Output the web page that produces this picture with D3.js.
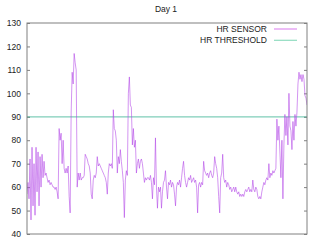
<!DOCTYPE html>
<html><head><meta charset="utf-8">
<script src="https://cdn.jsdelivr.net/npm/d3@7"></script>
<style>body{margin:0;background:#fff}svg{display:block}text{font-family:"Liberation Sans",Arial,sans-serif}</style>
</head><body>
<svg id="c" width="312" height="241"></svg>
<script>
const title = "Day 1";
const seriesNames = ["HR SENSOR", "HR THRESHOLD"];
const yTicks = [40, 50, 60, 70, 80, 90, 100, 110, 120, 130];
const threshold = 90;
const hrSensor = [
57,62,55,72,46,77,52,70,48,77,
58,75,52,73,60,74,64,71,65,66,
64,62,63,61,62,61,60,60,59,60,
58,55,85,80,83,70,80,68,66,68,
66,69,56,49,92,109,104,117,113,110,
60,66,63,66,63,64,64,65,74,73,
72,70,69,66,57,55,63,65,64,66,
73,69,70,69,68,67,66,65,64,62,
57,66,70,69,70,68,93,85,84,80,
66,73,70,76,71,67,62,47,63,67,
65,100,107,95,94,78,85,77,80,66,
70,72,68,71,72,70,66,62,64,63,
64,64,63,65,62,55,64,61,81,60,
51,60,58,60,51,58,62,63,67,60,
55,62,61,63,60,62,61,57,52,60,
62,61,63,60,64,68,71,65,62,60,
62,64,63,65,62,63,64,62,63,60,
49,61,62,60,62,61,71,67,66,65,
66,64,66,67,65,64,66,73,70,68,
64,56,49,64,66,74,64,62,63,60,
62,61,59,60,58,59,60,58,60,58,
57,58,56,57,56,57,56,58,59,58,
59,60,58,59,58,63,59,58,60,59,
56,55,56,55,58,60,62,61,63,64,
63,70,64,66,65,67,66,67,68,89,
80,86,75,64,80,55,78,91,82,90,
78,100,86,84,76,88,80,91,86,92,
104,109,106,108,105,108,106,99,98,95
];

const svg = d3.select("#c");
const L = 27, R = 307, T = 23, B = 234;
const x = d3.scaleLinear().domain([0, hrSensor.length - 1]).range([L, R]);
const y = d3.scaleLinear().domain([40, 130]).range([B, T]);
const gray = "#808080";

svg.append("text").attr("x", 166).attr("y", 11.5).attr("text-anchor", "middle")
  .attr("font-size", "8.5px").attr("fill", "#222").text(title);

const ga = svg.append("g").attr("transform", `translate(${L},0)`)
  .call(d3.axisLeft(y).tickValues(yTicks).tickSize(-3).tickPadding(6));
ga.select(".domain").remove();
ga.selectAll("line").attr("stroke", gray);
ga.selectAll("text").attr("font-size", "8.5px").attr("fill", "#222").attr("font-family", "Liberation Sans, Arial, sans-serif");
const gr = svg.append("g").attr("transform", `translate(${R},0)`)
  .call(d3.axisRight(y).tickValues(yTicks).tickSize(-3).tickFormat(""));
gr.select(".domain").remove();
gr.selectAll("line").attr("stroke", gray);

svg.append("clipPath").attr("id", "pc").append("rect")
  .attr("x", L).attr("y", T).attr("width", R - L).attr("height", B - T);

svg.append("line").attr("x1", L).attr("x2", R).attr("y1", y(threshold)).attr("y2", y(threshold))
  .attr("stroke", "#009e73").attr("stroke-opacity", 0.5).attr("stroke-width", 1.2);

svg.append("path").datum(hrSensor).attr("clip-path", "url(#pc)")
  .attr("fill", "none").attr("stroke", "#b040e6").attr("stroke-width", 0.8).attr("stroke-opacity", 0.7)
  .attr("d", d3.line().x((d, i) => x(i)).y(d => y(d)));

svg.append("rect").attr("x", L).attr("y", T).attr("width", R - L).attr("height", B - T)
  .attr("fill", "none").attr("stroke", gray).attr("stroke-width", 1);

const leg = svg.append("g");
const legColors = ["#e090f0", "#90dcc0"];
seriesNames.forEach((n, i) => {
  const yy = 29 + i * 11.3;
  leg.append("text").attr("x", 267).attr("y", yy + 3).attr("text-anchor", "end")
    .attr("font-size", "8.5px").attr("fill", "#222").text(n);
  leg.append("line").attr("x1", 274).attr("x2", 297).attr("y1", yy).attr("y2", yy)
    .attr("stroke", legColors[i]).attr("stroke-width", 1.2);
});
</script>
</body></html>
